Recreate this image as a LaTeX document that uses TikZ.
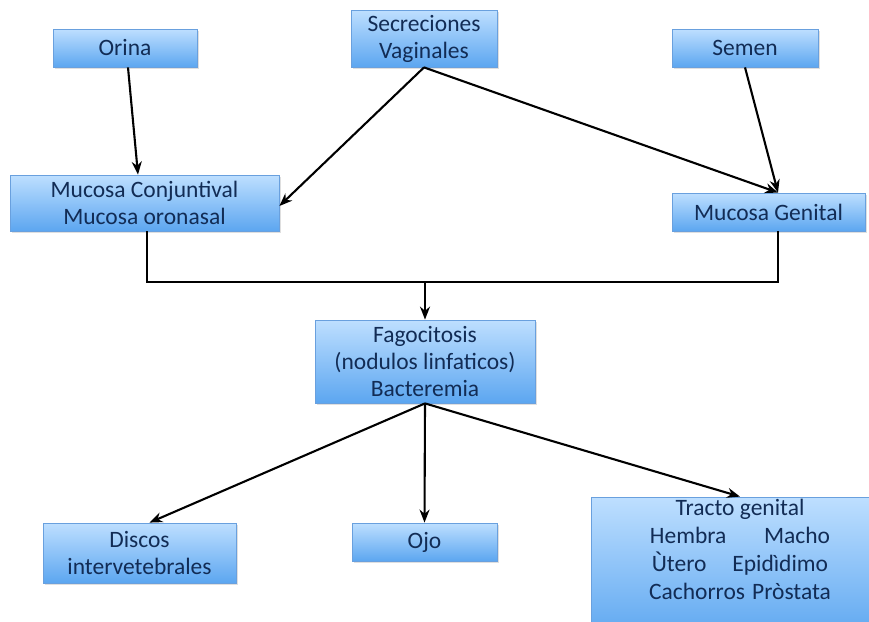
\documentclass[tikz,border=0pt]{standalone}
\usepackage{fontspec}
\setmainfont{Carlito}
\usetikzlibrary{arrows.meta,shadows}
\definecolor{boxtop}{RGB}{190,223,255}
\definecolor{boxbot}{RGB}{92,166,240}
\definecolor{boxline}{RGB}{105,160,222}
\definecolor{txt}{RGB}{18,44,85}
\tikzset{
  bx/.style={draw=boxline, line width=0.8pt, top color=boxtop, bottom color=boxbot,
    align=center, text=txt, font=\fontsize{23.5}{27}\selectfont, inner sep=0pt,
    drop shadow={opacity=0.25, shadow xshift=1.5pt, shadow yshift=-2pt}},
  arr/.style={-{Stealth[length=13pt,width=10pt]}, line width=2.1pt, black},
  ln/.style={line width=2.1pt, black}
}
\begin{document}
\begin{tikzpicture}[x=1pt,y=-1pt]
\useasboundingbox (0,0) rectangle (869,621);
\node[bx, minimum width=144pt, minimum height=38pt] (orina) at (125,48) {\raisebox{-2pt}{Orina}};
\node[bx, minimum width=146pt, minimum height=57pt] (sec) at (424,38.5) {Secreciones\\Vaginales};
\node[bx, minimum width=146pt, minimum height=38pt] (semen) at (745,48) {\raisebox{-2pt}{Semen}};
\node[bx, minimum width=269pt, minimum height=56pt] (mc) at (144.5,203) {Mucosa Conjuntival\\Mucosa oronasal};
\node[bx, minimum width=193pt, minimum height=38pt] (mg) at (768.5,212) {\raisebox{-2pt}{Mucosa Genital}};
\node[bx, minimum width=220pt, minimum height=83pt] (fago) at (425,361.5) {Fagocitosis\\(nodulos linfaticos)\\Bacteremia};
\node[bx, minimum width=193pt, minimum height=60pt] (discos) at (139.5,553) {Discos\\intervetebrales};
\node[bx, minimum width=145pt, minimum height=38pt] (ojo) at (424.5,542) {\raisebox{-2pt}{Ojo}};
\node[bx, minimum width=288pt, minimum height=143pt] (tracto) at (735,568.5) {};
\node[align=center, text=txt, font=\fontsize{23.5}{28}\selectfont, anchor=north, inner sep=0pt] (tractotxt) at (740,499)
  {Tracto genital\\Hembra\hspace{1.6em}Macho\\Ùtero\hspace{1.1em}Epidìdimo\\Cachorros\hspace{0.3em}Pròstata};
% top arrows
\draw[arr] ([xshift=3pt]orina.south) -- ([xshift=-6.5pt]mc.north);
\draw[arr] (sec.south) -- ([yshift=-3pt]mc.east);
\draw[arr] (sec.south) -- ([xshift=9.5pt]mg.north);
\draw[arr] (semen.south) -- ([xshift=9.5pt]mg.north);
% join
\coordinate (mcb) at ([xshift=2.5pt]mc.south);
\coordinate (mgb) at ([xshift=9.5pt]mg.south);
\coordinate (junc) at (fago.north |- 0,282);
\draw[ln] (mcb) |- (mgb |- junc) -- (mgb);
\draw[arr] (junc) -- (fago.north);
% bottom arrows
\draw[arr] (fago.south) -- ([xshift=10pt]discos.north);
\draw[arr] (fago.south) -- (ojo.north);
\draw[arr] (fago.south) -- ([xshift=5pt]tracto.north);
\end{tikzpicture}
\end{document}
